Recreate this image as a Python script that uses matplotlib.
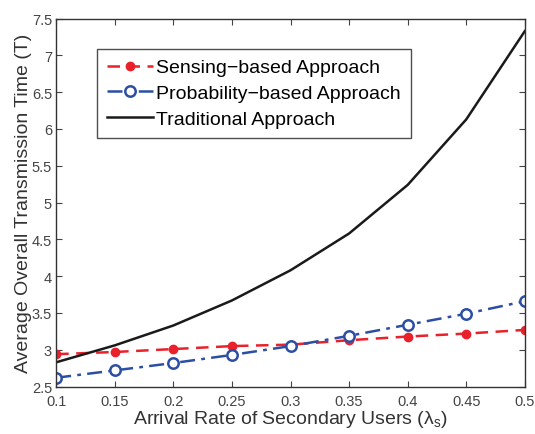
import numpy as np
import matplotlib
matplotlib.use("Agg")
import matplotlib.pyplot as plt

plt.rcParams['font.family'] = ['Liberation Sans', 'DejaVu Sans']
plt.rcParams['mathtext.fontset'] = 'custom'
plt.rcParams['mathtext.rm'] = 'Liberation Sans'
plt.rcParams['mathtext.it'] = 'Liberation Sans'

#%% Data
arrival_rate = [0.1, 0.15, 0.2, 0.25, 0.3, 0.35, 0.4, 0.45, 0.5]
sensing = [2.94, 2.97, 3.01, 3.05, 3.07, 3.13, 3.18, 3.22, 3.27]
probability = [2.62, 2.72, 2.82, 2.93, 3.05, 3.19, 3.34, 3.49, 3.66]
traditional = [2.83, 3.06, 3.33, 3.67, 4.08, 4.58, 5.24, 6.13, 7.33]

xticks = [0.1, 0.15, 0.2, 0.25, 0.3, 0.35, 0.4, 0.45, 0.5]
xticklabels = ["0.1", "0.15", "0.2", "0.25", "0.3", "0.35", "0.4", "0.45", "0.5"]
yticks = [2.5, 3, 3.5, 4, 4.5, 5, 5.5, 6, 6.5, 7, 7.5]
yticklabels = ["2.5", "3", "3.5", "4", "4.5", "5", "5.5", "6", "6.5", "7", "7.5"]

#%% Plot
fig = plt.figure(figsize=(5.35, 4.35), dpi=100)
ax = fig.add_axes([0.105, 0.109, 0.876, 0.846])

ax.plot(arrival_rate, sensing, '--', color='#e8212b', lw=1.8,
        marker='o', ms=6, mfc='#e8212b', mec='#e8212b',
        label='Sensing\u2212based Approach', dashes=(5, 3))
ax.plot(arrival_rate, probability, '-.', color='#2c4fa3', lw=1.8,
        marker='o', ms=7.5, mfc='white', mec='#2c4fa3', mew=1.8,
        label='Probability\u2212based Approach', dashes=(6, 2.5, 1.5, 2.5))
ax.plot(arrival_rate, traditional, '-', color='#1a1a1a', lw=1.8,
        label='Traditional Approach')

ax.set_xlim(0.1, 0.5)
ax.set_ylim(2.5, 7.5)
ax.set_xticks(xticks)
ax.set_xticklabels(xticklabels)
ax.set_yticks(yticks)
ax.set_yticklabels(yticklabels)
ax.tick_params(direction='in', top=True, right=True, labelsize=10.5,
               colors='#444444', length=4)
ax.tick_params(axis='x', pad=5)
ax.tick_params(axis='y', pad=3)
for s in ax.spines.values():
    s.set_linewidth(1.0)
    s.set_color('#333333')

ax.set_xlabel(r'Arrival Rate of Secondary Users ($\lambda_s$)', fontsize=14,
              color='#333333', labelpad=0)
ax.set_ylabel('Average Overall Transmission Time (T)', fontsize=14,
              color='#333333', labelpad=0)

leg = ax.legend(loc='upper left', bbox_to_anchor=(0.087, 0.917), fontsize=14,
                frameon=True, fancybox=False, edgecolor='#222222',
                handlelength=2.4, handletextpad=0.15, borderpad=0.5,
                labelspacing=0.42, borderaxespad=0)
leg.get_frame().set_linewidth(1.0)

fig.savefig("out.png", dpi=100)
